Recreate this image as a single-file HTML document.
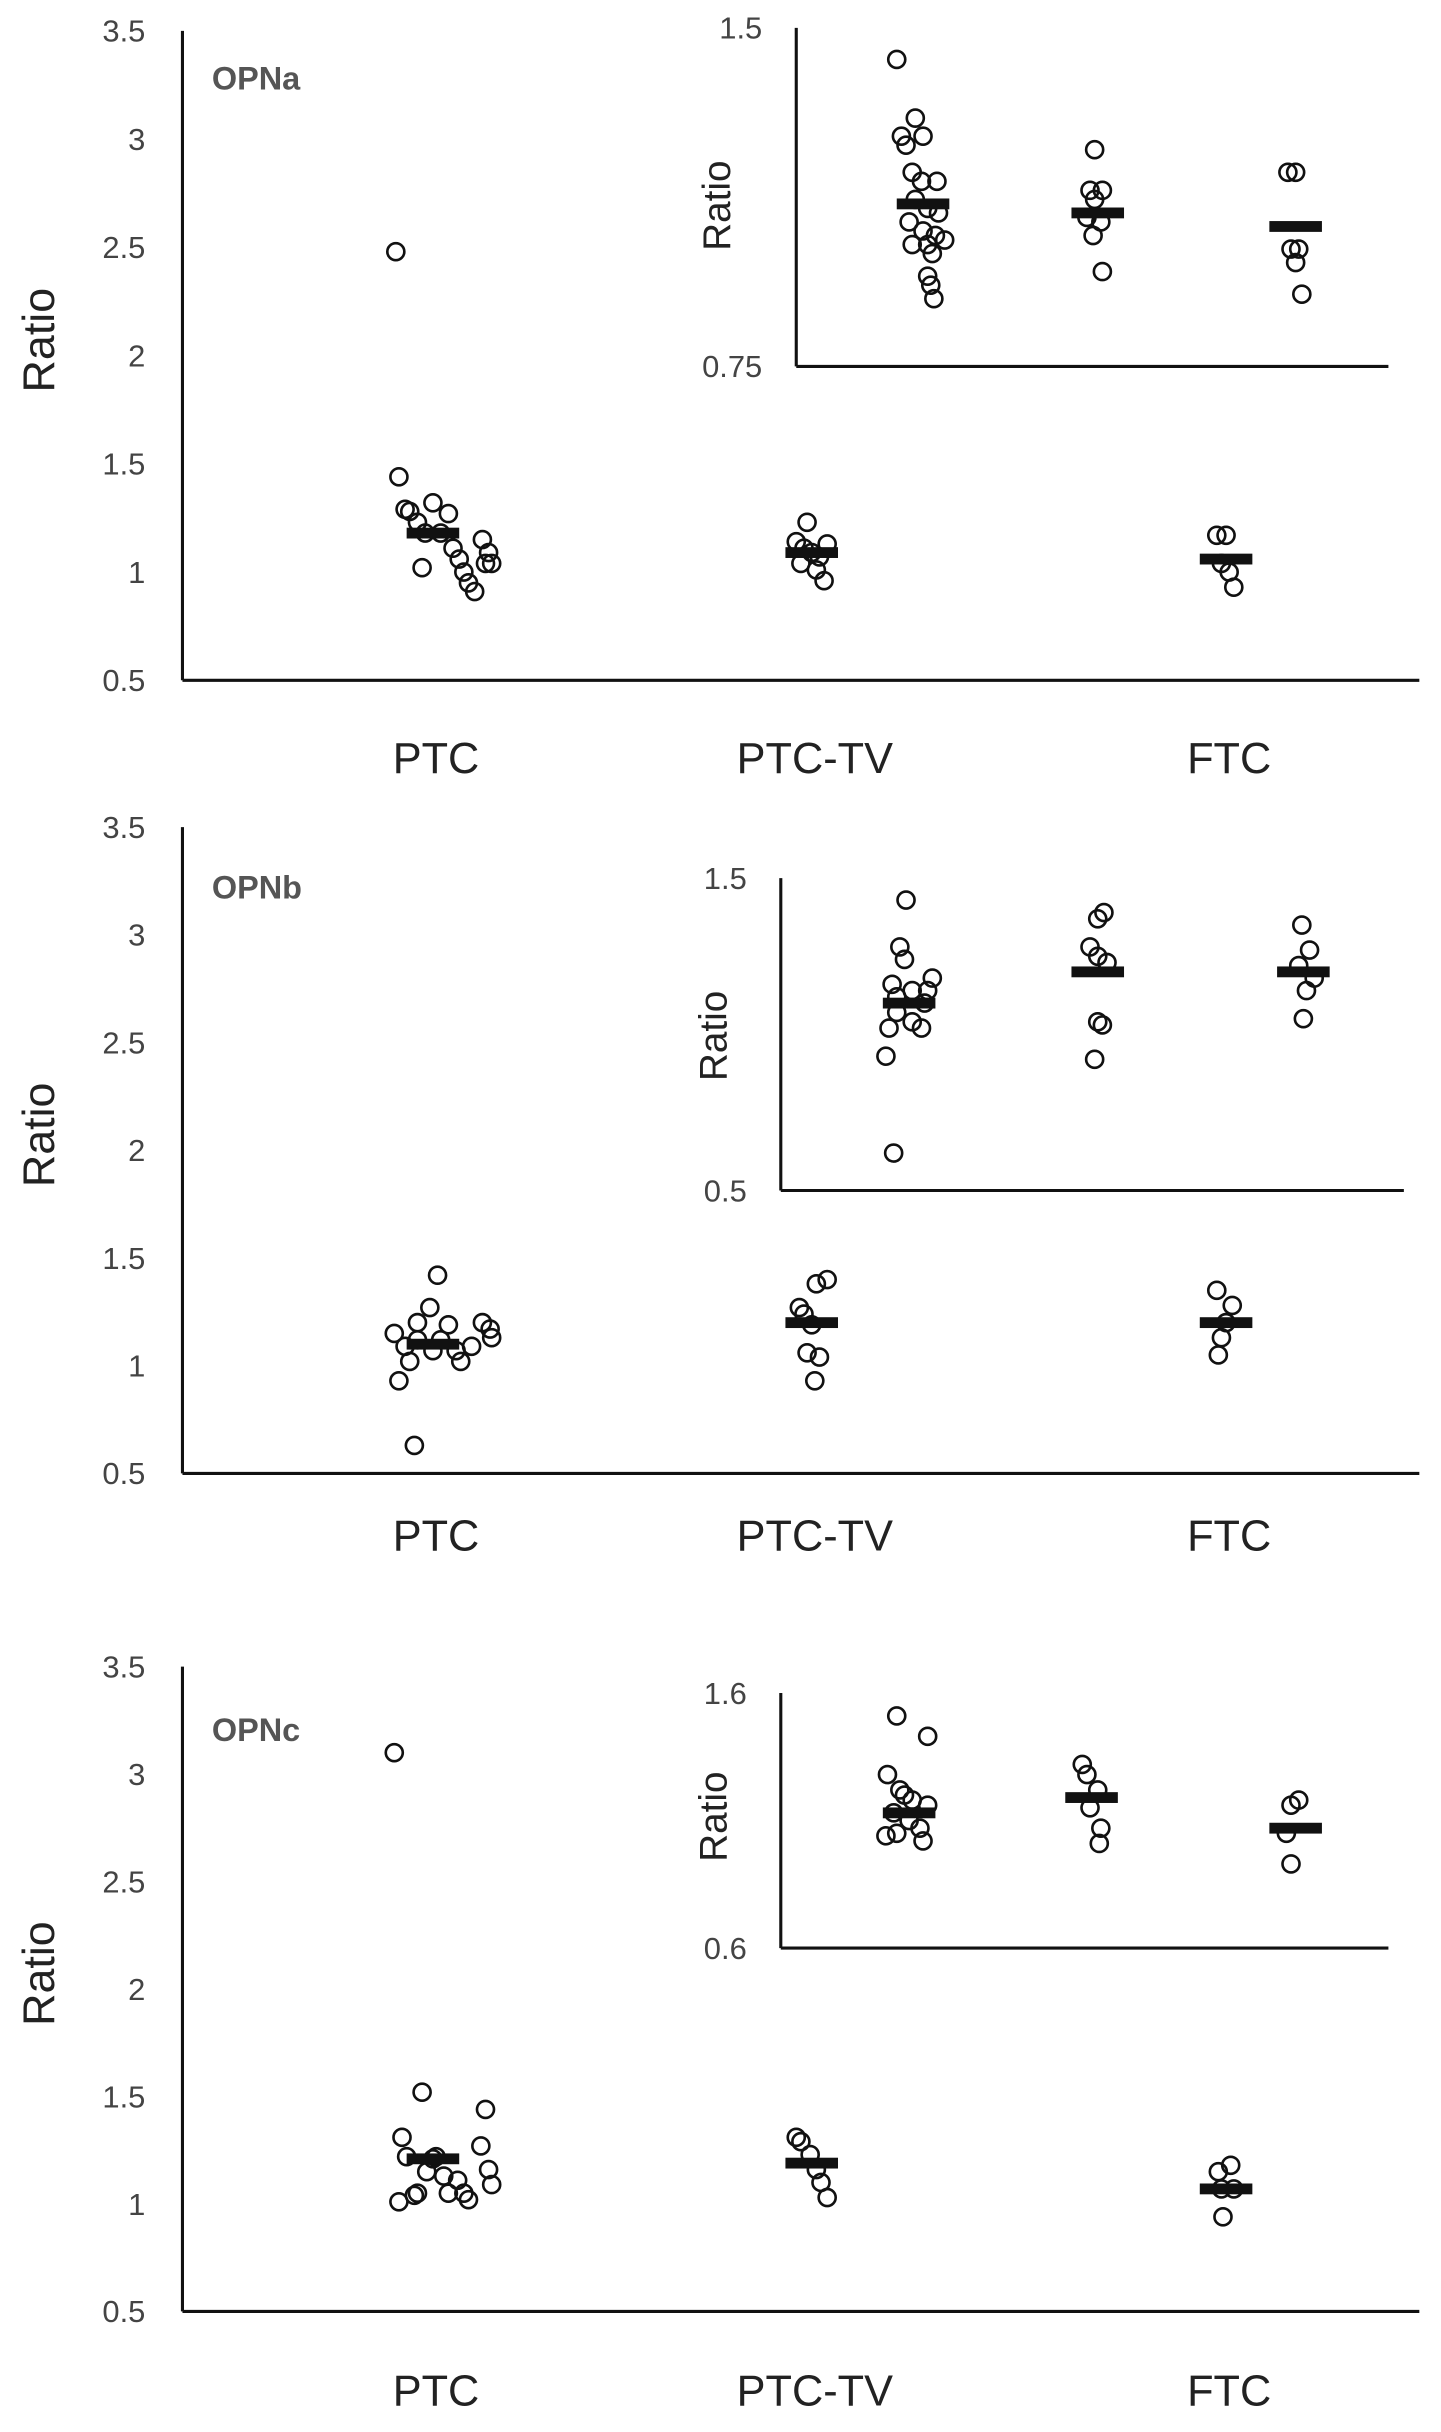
<!DOCTYPE html>
<html><head><meta charset="utf-8"><style>
html,body{margin:0;padding:0;background:#fff;}
svg{display:block;}
text{font-family:"Liberation Sans","DejaVu Sans",sans-serif;}
</style></head><body>
<svg id="chart" width="1441" height="2432" viewBox="0 0 932 1573" xmlns="http://www.w3.org/2000/svg"></svg>
<script>
const categories = ["PTC","PTC-TV","FTC"];
// Panel A main (OPNa)
const aMainVals = [
 [2.48,1.44,1.29,1.28,1.23,1.02,1.32,1.27,1.18,1.11,1.06,1.0,0.95,0.91,1.15,1.09,1.04,1.04,1.18],
 [1.23,1.14,1.11,1.13,1.07,1.04,1.01,0.96,1.09],
 [1.17,1.17,1.04,1.0,0.93]];
const aMainJit = [[-24,-22,-18,-15,-10,-7,0,10,5,13,17,20,23,27,32,36,38,34,-5],[-3,-10,-5,10,5,-7,3,8,0],[-6,0,-3,2,5]];
const aMainMeans = [1.18,1.09,1.06];
const aInsVals = [
 [1.43,1.30,1.26,1.24,1.26,1.18,1.16,1.16,1.12,1.10,1.09,1.07,1.05,1.04,1.02,1.02,1.03,1.0,0.95,0.93,0.90],
 [1.23,1.14,1.14,1.12,1.08,1.07,1.04,0.96],
 [1.18,1.18,1.01,1.01,0.98,0.91]];
const aInsJit = [[-17,-5,-14,-11,0,-7,-1,9,-5,3,10,-9,0,8,3,-7,14,6,3,5,7],[-2,-5,3,-2,-7,2,-3,3],[-5,0,-3,2,0,4]];
const aInsMeans = [1.11,1.09,1.06];
// Panel B (OPNb)
const bMainVals = [
 [0.63,0.93,1.15,1.09,1.02,1.2,1.27,1.12,1.07,1.12,1.19,1.07,1.02,1.09,1.42,1.2,1.17,1.13],
 [1.27,1.24,1.19,1.38,1.40,1.06,1.04,0.93],
 [1.35,1.28,1.2,1.13,1.05]];
const bMainJit = [[-12,-22,-25,-18,-15,-10,-2,-10,0,5,10,15,18,25,3,32,37,38],[-8,-5,0,3,10,-3,5,2],[-6,4,0,-3,-5]];
const bMainMeans = [1.1,1.2,1.2];
const bInsVals = [
 [0.62,0.93,1.02,1.12,1.24,1.28,1.14,1.1,1.14,1.18,1.07,1.04,1.02,1.43,1.16],
 [1.39,1.37,1.28,1.25,1.23,1.04,1.03,0.92],
 [1.35,1.27,1.22,1.18,1.14,1.05]];
const bInsJit = [[-10,-15,-13,-8,-3,-6,2,10,12,15,-8,2,8,-2,-11],[4,0,-5,0,6,0,3,-2],[-1,4,-3,7,2,0]];
const bInsMeans = [1.1,1.2,1.2];
// Panel C (OPNc)
const cMainVals = [
 [3.1,1.52,1.31,1.22,1.01,1.05,1.04,1.15,1.22,1.13,1.05,1.11,1.05,1.02,1.27,1.16,1.09,1.44,1.21],
 [1.31,1.29,1.23,1.16,1.1,1.03],
 [1.15,1.18,1.07,1.07,0.94]];
const cMainJit = [[-25,-7,-20,-17,-22,-10,-12,-4,2,7,10,16,20,23,31,36,38,34,0],[-10,-7,-1,3,6,10],[-5,3,5,-3,-2]];
const cMainMeans = [1.21,1.19,1.07];
const cInsVals = [
 [1.51,1.43,1.28,1.22,1.18,1.16,1.13,1.1,1.07,1.04,1.05,1.02,1.2],
 [1.32,1.28,1.22,1.15,1.07,1.01],
 [1.16,1.18,1.05,0.93]];
const cInsJit = [[-8,12,-14,-6,2,12,-10,0,7,-15,-8,9,-3],[-6,-3,4,-1,6,5],[-3,2,-6,-3]];
const cInsMeans = [1.13,1.19,1.07];

const svg = document.getElementById('chart');
const NS = 'http://www.w3.org/2000/svg';
function mk(tag, attrs, parent){const e=document.createElementNS(NS,tag);for(const k in attrs)e.setAttribute(k,attrs[k]);(parent||svg).appendChild(e);return e;}

function drawAxes(cfg, prefix){
  const g = mk('g',{});
  
  
  const yl = mk('line',{x1:cfg.x0,y1:cfg.yTop,x2:cfg.x0,y2:cfg.yBot,stroke:'#111','stroke-width':2},g);
  
  
  const xl = mk('line',{x1:cfg.x0,y1:cfg.yBot,x2:cfg.x1,y2:cfg.yBot,stroke:'#111','stroke-width':2},g);
  
  
  cfg.ticks.forEach(t=>{
    const y = cfg.yScale(t);
    const tx = mk('text',{x:cfg.x0-cfg.tickGap,y:y+7,'text-anchor':'end','font-size':cfg.tickSize,fill:'#444'},g);
    tx.textContent = cfg.tickFmt ? cfg.tickFmt(t) : String(t);
    
    
  });
  const rl = mk('text',{x:cfg.rx,y:cfg.ry,'text-anchor':'middle','font-size':cfg.rSize,fill:'#222',transform:'rotate(-90 '+cfg.rx+' '+cfg.ry+')'},g);
  rl.textContent='Ratio';
  
  
}
function drawSeries(cfg, vals, jit, means, prefix){
  vals.forEach((arr,gi)=>{
    const cx = cfg.catX[gi];
    const mg = mk('g',{});
    
    
    arr.forEach((v,i)=>{
      const c = mk('circle',{cx:cx+(jit[gi][i]||0),cy:cfg.yScale(v),r:5.5,fill:'none',stroke:'#111','stroke-width':1.7},mg);
      
      
    });
    const ym = cfg.yScale(means[gi]);
    const b = mk('rect',{x:cx+cfg.meanOff-17,y:ym-3.5,width:34,height:7,fill:'#111'},mg);
    
    
  });
}
function lin(v0,v1,p0,p1){return v=>p0+(v-v0)*(p1-p0)/(v1-v0);}

const panels = [
 {name:'OPNa', top:20, bot:440, lbl:[137,58], catLabelY:500,
  ins:{x0:515,x1:898,yTop:18,yBot:237,lo:0.75,hi:1.5,ticks:[1.5,0.75],fmt:t=>String(t),rx:472,ry:133,catX:[597,710,838]},
  mv:aMainVals,mj:aMainJit,mm:aMainMeans,iv:aInsVals,ij:aInsJit,im:aInsMeans, mainCat:[282,527,795]},
 {name:'OPNb', top:535, bot:953, lbl:[137,581], catLabelY:1003,
  ins:{x0:505,x1:908,yTop:568,yBot:770,lo:0.5,hi:1.5,ticks:[1.5,0.5],fmt:t=>String(t),rx:470,ry:670,catX:[588,710,843]},
  mv:bMainVals,mj:bMainJit,mm:bMainMeans,iv:bInsVals,ij:bInsJit,im:bInsMeans, mainCat:[282,527,795]},
 {name:'OPNc', top:1078, bot:1495, lbl:[137,1126], catLabelY:1556,
  ins:{x0:505,x1:898,yTop:1095,yBot:1260,lo:0.6,hi:1.6,ticks:[1.6,0.6],fmt:t=>String(t),rx:470,ry:1175,catX:[588,706,838]},
  mv:cMainVals,mj:cMainJit,mm:cMainMeans,iv:cInsVals,ij:cInsJit,im:cInsMeans, mainCat:[282,527,795]}
];
const mainTicks=[3.5,3,2.5,2,1.5,1,0.5];
panels.forEach((p,pi)=>{
  const pre = p.name.toLowerCase();
  const main = {x0:118,x1:918,yTop:p.top,yBot:p.bot,yScale:lin(0.5,3.5,p.bot,p.top),ticks:mainTicks,tickGap:24,tickSize:20,rx:35,ry:(p.top+p.bot)/2-10,rSize:29,catX:p.mainCat.map(x=>x-2),meanOff:0};
  drawAxes(main, pre+'-main');
  drawSeries(main,p.mv,p.mj,p.mm,pre+'-main');
  const ins = {x0:p.ins.x0,x1:p.ins.x1,yTop:p.ins.yTop,yBot:p.ins.yBot,yScale:lin(p.ins.lo,p.ins.hi,p.ins.yBot,p.ins.yTop),ticks:p.ins.ticks,tickFmt:p.ins.fmt,tickGap:22,tickSize:20,rx:p.ins.rx,ry:p.ins.ry,rSize:25,catX:p.ins.catX,meanOff:0};
  drawAxes(ins, pre+'-inset');
  drawSeries(ins,p.iv,p.ij,p.im,pre+'-inset');
  const t = mk('text',{x:p.lbl[0],y:p.lbl[1],'font-size':21,'font-weight':'bold',fill:'#555'});
  t.textContent = p.name;
  
  
  categories.forEach((c,ci)=>{
    const ct = mk('text',{x:p.mainCat[ci],y:p.catLabelY,'text-anchor':'middle','font-size':28,fill:'#222'});
    ct.textContent = c;
    
    
  });
});
</script>
</body></html>
